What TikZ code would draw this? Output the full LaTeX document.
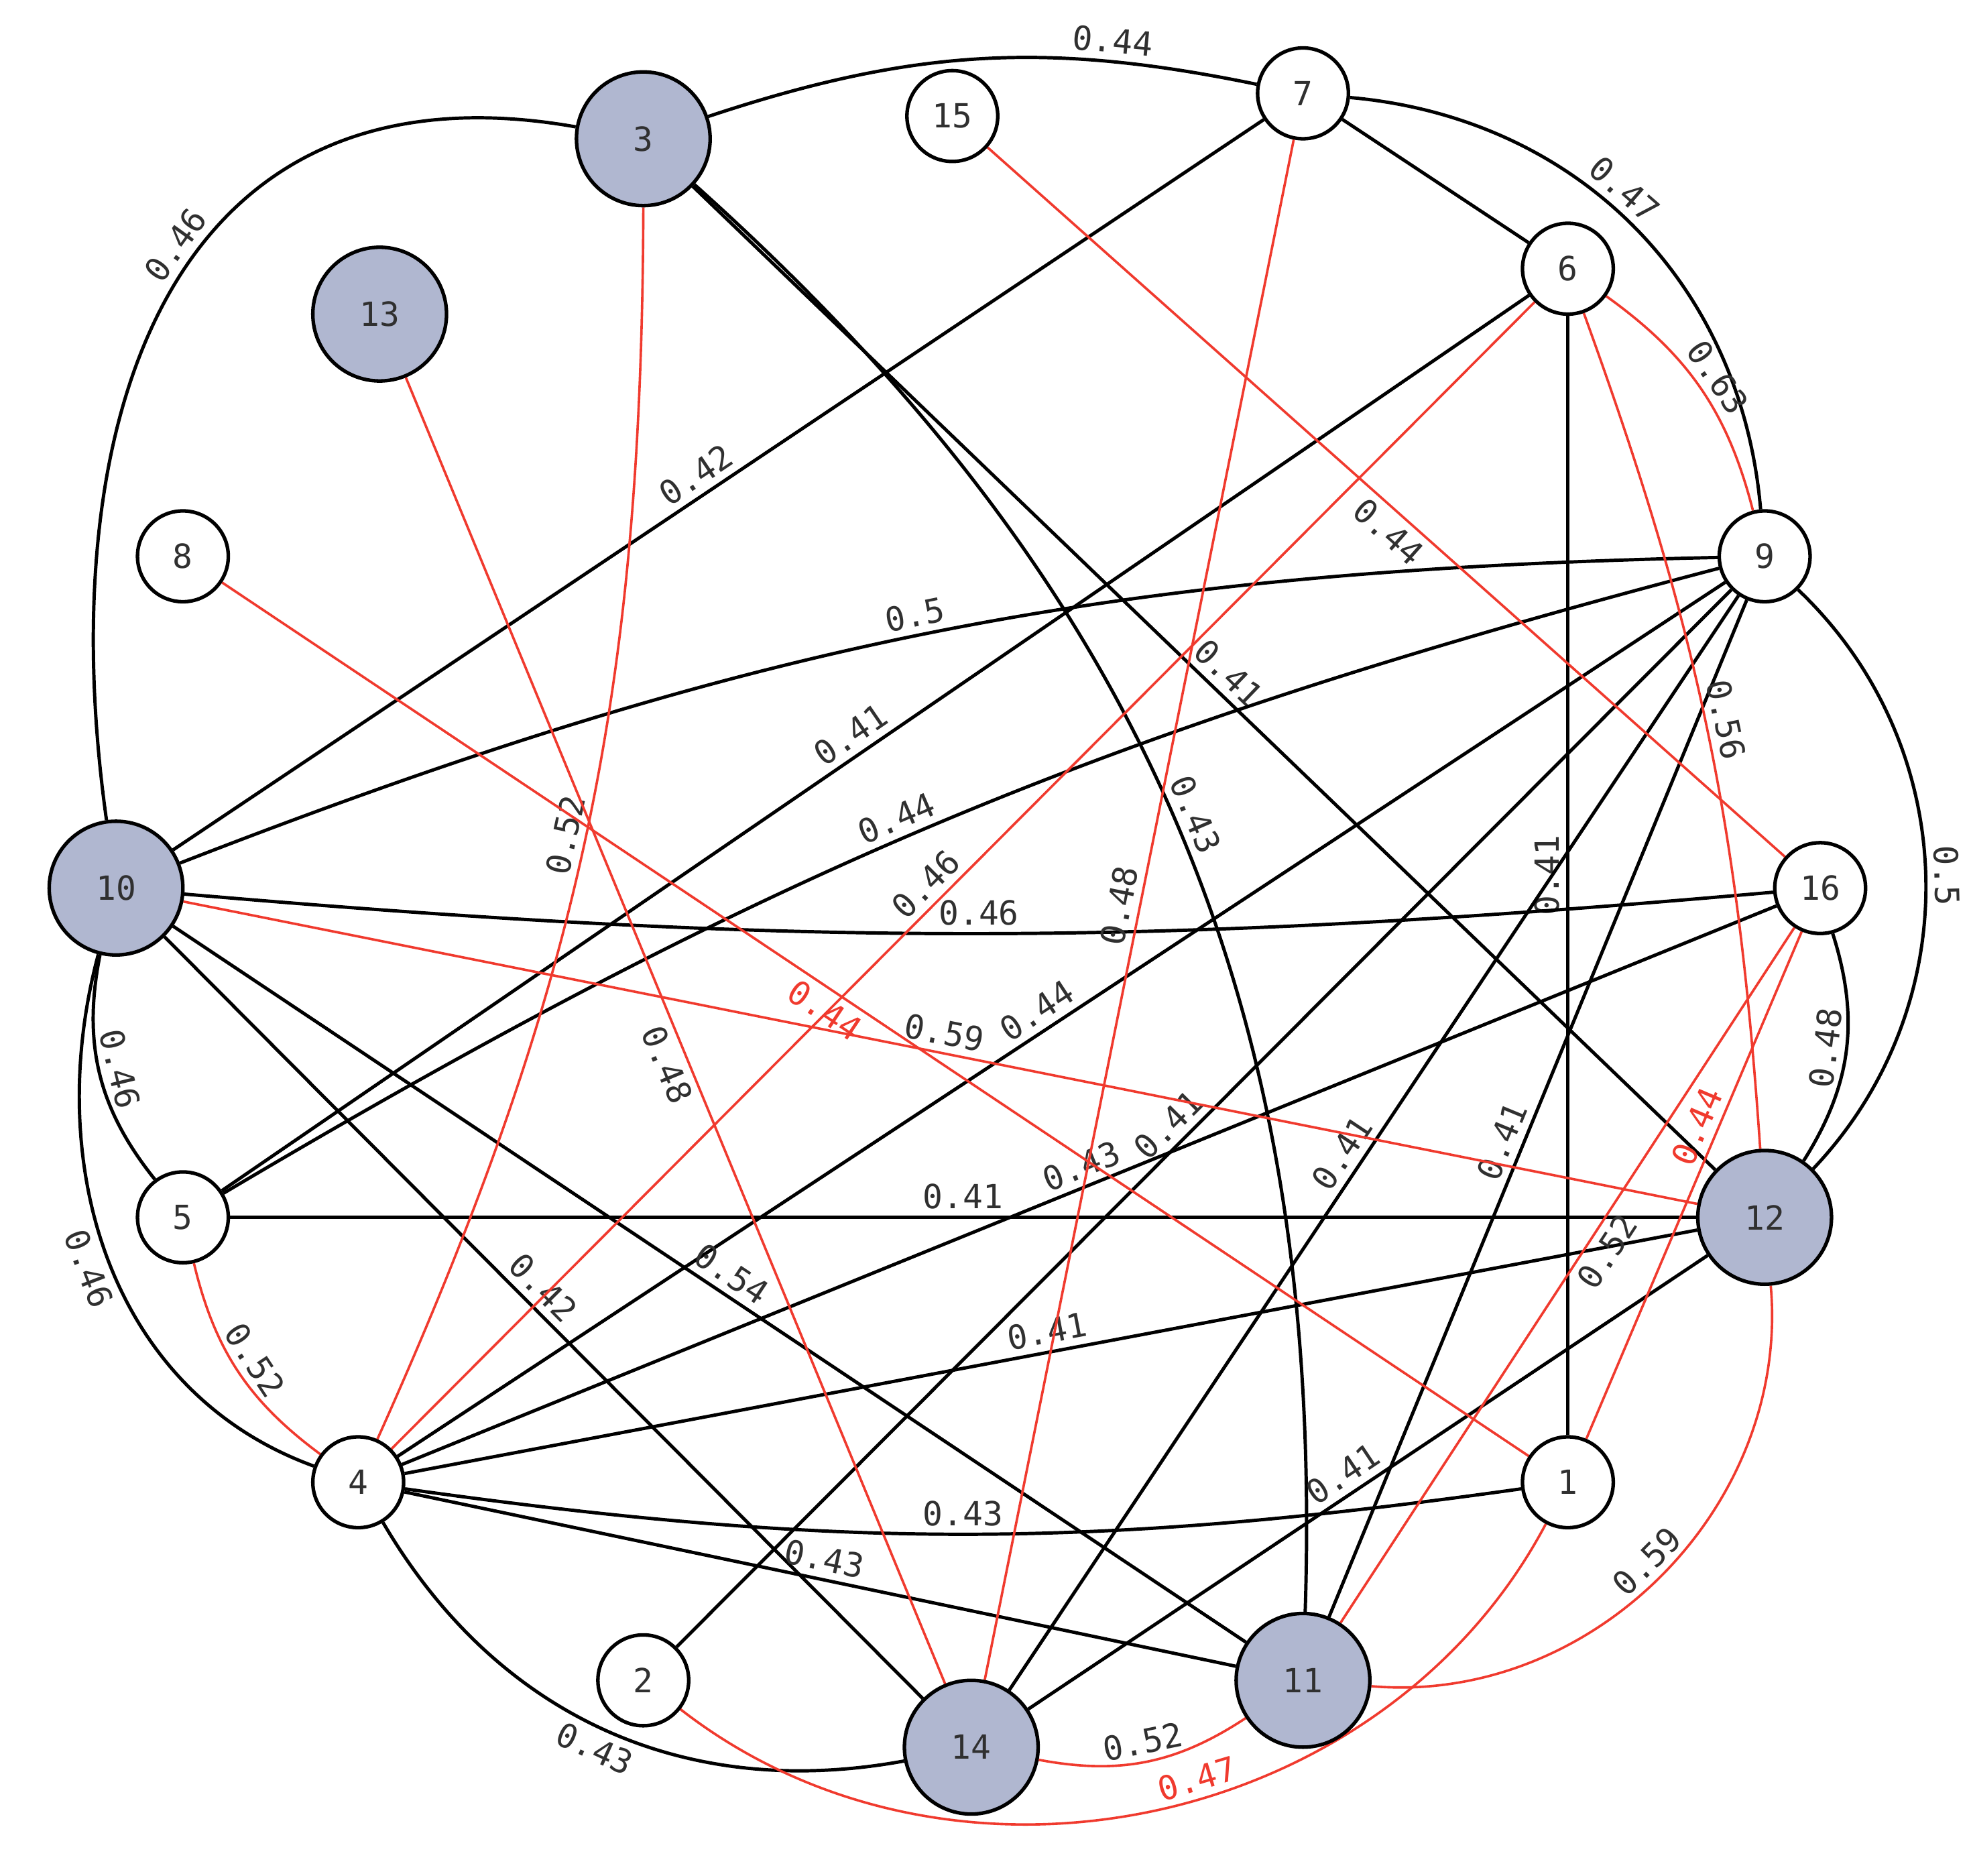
\documentclass[tikz,border=0pt]{standalone}
\usepackage{fontspec}
\setmonofont{DejaVu Sans Mono}
\usetikzlibrary{backgrounds}
\definecolor{gfill}{HTML}{B0B7D0}
\definecolor{redl}{HTML}{F03A2E}
\definecolor{txt}{HTML}{303030}
\begin{document}
\begin{tikzpicture}[x=1cm,y=1cm,
  sn/.style={circle,draw=black,line width=0.8pt,fill=white,minimum size=0.72cm,inner sep=0pt,font=\ttfamily\fontsize{7.5}{9}\selectfont,text=txt},
  bn/.style={sn,fill=gfill,minimum size=1.06cm},
  bl/.style={draw=black,line width=0.75pt},
  rl/.style={draw=redl,line width=0.55pt},
  lab/.style={font=\ttfamily\fontsize{7.5}{9}\selectfont,text=txt,sloped,inner sep=1.5pt},
  rlab/.style={lab,text=redl}]
\useasboundingbox (0,0) rectangle (15.61,-14.87);
\node[bn] (n3) at (5.10,-1.10) {3};
\node[sn] (n7) at (10.33,-0.74) {7};
\node[sn] (n15) at (7.55,-0.92) {15};
\node[bn] (n13) at (3.01,-2.49) {13};
\node[sn] (n6) at (12.43,-2.13) {6};
\node[sn] (n8) at (1.45,-4.41) {8};
\node[sn] (n9) at (13.99,-4.41) {9};
\node[bn] (n10) at (0.92,-7.04) {10};
\node[sn] (n16) at (14.43,-7.04) {16};
\node[sn] (n5) at (1.45,-9.65) {5};
\node[bn] (n12) at (13.99,-9.65) {12};
\node[sn] (n4) at (2.84,-11.75) {4};
\node[sn] (n1) at (12.43,-11.75) {1};
\node[sn] (n2) at (5.10,-13.32) {2};
\node[bn] (n11) at (10.33,-13.32) {11};
\node[bn] (n14) at (7.70,-13.85) {14};
\begin{scope}[on background layer]
% black edges
\draw[bl] (n10) to[out=98,in=170,looseness=1.25] node[lab,pos=0.55,above]{0.46} (n3);
\draw[bl] (n3) to[bend left=15] node[lab,pos=0.75,above]{0.44} (n7);
\draw[bl] (n7) to[bend left=40] node[lab,pos=0.45,above]{0.47} (n9);
\draw[bl] (n7) -- (n6);
\draw[bl] (n7) -- node[lab,pos=0.51,above]{0.42} (n10);
\draw[bl] (n3) -- node[lab,pos=0.51,above]{0.41} (n12);
\draw[bl] (n3) to[bend left=25] node[lab,pos=0.5,above]{0.43} (n11);
\draw[bl] (n1) -- node[lab,pos=0.5,above]{0.41} (n6);
\draw[bl] (n6) -- node[lab,pos=0.51,above]{0.41} (n5);
\draw[bl] (n10) to[bend left=10] node[lab,pos=0.49,above]{0.5} (n9);
\draw[bl] (n5) to[bend left=8] node[lab,pos=0.47,above]{0.44} (n9);
\draw[bl] (n4) -- node[lab,pos=0.49,above]{0.44} (n9);
\draw[bl] (n2) -- node[lab,pos=0.48,above]{0.41} (n9);
\draw[bl] (n4) -- node[lab,pos=0.5,above]{0.43} (n16);
\draw[bl] (n14) -- node[lab,pos=0.48,above]{0.41} (n9);
\draw[bl] (n11) -- node[lab,pos=0.46,above]{0.41} (n9);
\draw[bl] (n10) to[bend right=5] node[lab,pos=0.5,above]{0.46} (n16);
\draw[bl] (n10) to[bend right=25] node[lab,pos=0.5,above]{0.46} (n5);
\draw[bl] (n10) to[out=255,in=160,looseness=1.0] node[lab,pos=0.5,below]{0.46} (n4);
\draw[bl] (n10) -- node[lab,pos=0.48,above]{0.42} (n14);
\draw[bl] (n10) -- node[lab,pos=0.51,above]{0.54} (n11);
\draw[bl] (n5) -- node[lab,pos=0.5,above]{0.41} (n12);
\draw[bl] (n4) -- node[lab,pos=0.5,above]{0.41} (n12);
\draw[bl] (n4) to[bend right=8] node[lab,pos=0.5,above]{0.43} (n1);
\draw[bl] (n4) -- node[lab,pos=0.5,above]{0.43} (n11);
\draw[bl] (n4) to[bend right=35] node[lab,pos=0.5,below]{0.43} (n14);
\draw[bl] (n12) to[bend right=25] node[lab,pos=0.5,above]{0.48} (n16);
\draw[bl] (n12) to[bend right=45] node[lab,pos=0.5,above]{0.5} (n9);
\draw[bl] (n12) -- node[lab,pos=0.52,above]{0.41} (n14);
% red edges
\draw[rl] (n3) to[bend left=12] node[lab,pos=0.5,above]{0.52} (n4);
\draw[rl] (n13) -- node[lab,pos=0.52,below]{0.48} (n14);
\draw[rl] (n8) -- node[rlab,pos=0.47,below]{0.44} (n1);
\draw[rl] (n15) -- node[lab,pos=0.52,below]{0.44} (n16);
\draw[rl] (n7) -- node[lab,pos=0.5,above]{0.48} (n14);
\draw[rl] (n6) -- node[lab,pos=0.52,above]{0.46} (n4);
\draw[rl] (n6) to[bend left=20] node[lab,pos=0.5,above]{0.63} (n9);
\draw[rl] (n6) to[bend left=8] node[lab,pos=0.5,above]{0.56} (n12);
\draw[rl] (n16) -- node[rlab,pos=0.4,above]{0.44} (n1);
\draw[rl] (n16) -- node[lab,pos=0.45,below]{0.52} (n11);
\draw[rl] (n5) to[bend right=20] node[lab,pos=0.5,above]{0.52} (n4);
\draw[rl] (n14) to[bend right=22] node[lab,pos=0.5,above]{0.52} (n11);
\draw[rl] (n11) to[bend right=50] node[lab,pos=0.5,above]{0.59} (n12);
\draw[rl] (n2) to[bend right=50] node[rlab,pos=0.55,above]{0.47} (n1);
\draw[rl] (n10) -- node[lab,pos=0.5,above]{0.59} (n12);
\end{scope}
\end{tikzpicture}
\end{document}
